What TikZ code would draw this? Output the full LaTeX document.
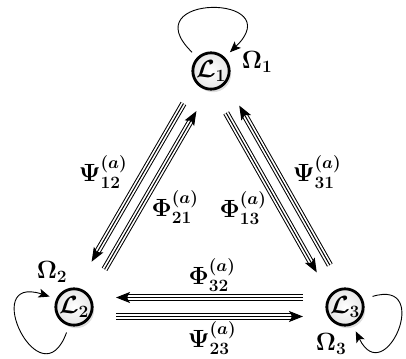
\documentclass[tikz,border=0pt]{standalone}
\usepackage{amsmath}
\usetikzlibrary{arrows.meta,calc,shadows}
\tikzset{
  site/.style = {circle, draw=black, line width=2.8pt, minimum size=35pt,
                 inner sep=0pt, shading=radial, inner color=white,
                 outer color=black!10,
                 drop shadow={opacity=0.25, shadow xshift=2pt, shadow yshift=-3pt},
                 font=\fontsize{25}{28}\selectfont\boldmath},
  lbl/.style  = {inner sep=1pt, font=\fontsize{25}{28}\selectfont\boldmath},
  tri/.style  = {line width=1pt, -{Stealth[length=14pt, width=11pt, inset=3pt]},
                 preaction={draw, line width=1pt, double, double distance=4.4pt,
                            arrows=-, shorten >=11pt}},
  self/.style = {line width=0.9pt, -{Stealth[length=11pt, width=9pt, inset=2.5pt]},
                 shorten <=7pt, shorten >=7pt},
}
\begin{document}
\begin{tikzpicture}[x=1pt, y=1pt]
\useasboundingbox (0,0) rectangle (406,358);
% the three sites and their own terms
\node[site] (L1) at (211,287) {$\mathcal{L}_1$};
\node[site] (L2) at (74,51)   {$\mathcal{L}_2$};
\node[site] (L3) at (345,51)  {$\mathcal{L}_3$};
\node[lbl] (O1) at (257,296) {$\Omega_1$};
\node[lbl] (O2) at (52,86)   {$\Omega_2$};
\node[lbl] (O3) at (331,14)  {$\Omega_3$};
% self loops
\draw[self] (L1.135) to[out=136, in=44, looseness=8.5] (L1.45);
\draw[self] (L2.255) to[out=250, in=162, looseness=7] (L2.155);
\draw[self, shorten <=10pt] (L3.23) to[out=17, in=296, looseness=6.8] (L3.293);
% couplings between sites, one lane each way
\draw[tri] ($(L1)!42pt!(L2)!7.5pt!-90:(L2)$) -- ($(L2)!48pt!(L1)!7.5pt!90:(L1)$);
\draw[tri] ($(L2)!48pt!(L1)!7.5pt!-90:(L1)$) -- ($(L1)!42pt!(L2)!7.5pt!90:(L2)$);
\draw[tri] ($(L1)!44pt!(L3)!7.5pt!-90:(L3)$) -- ($(L3)!44pt!(L1)!7.5pt!90:(L1)$);
\draw[tri] ($(L3)!44pt!(L1)!7.5pt!-90:(L1)$) -- ($(L1)!44pt!(L3)!7.5pt!90:(L3)$);
\draw[tri] ($(L3)!42pt!(L2)!9.5pt!-90:(L2)$) -- ($(L2)!42pt!(L3)!9.5pt!90:(L3)$);
\draw[tri] ($(L2)!42pt!(L3)!9.5pt!-90:(L3)$) -- ($(L3)!42pt!(L2)!9.5pt!90:(L2)$);
% coupling labels
\node[lbl] (psi12) at (103,186) {$\Psi^{(a)}_{12}$};
\node[lbl] (phi21) at (175,151) {$\Phi^{(a)}_{21}$};
\node[lbl] (phi13) at (243,150) {$\Phi^{(a)}_{13}$};
\node[lbl] (psi31) at (317,186) {$\Psi^{(a)}_{31}$};
\node[lbl] (phi32) at (212,83)  {$\Phi^{(a)}_{32}$};
\node[lbl] (psi23) at (212,20)  {$\Psi^{(a)}_{23}$};
\end{tikzpicture}
\end{document}
